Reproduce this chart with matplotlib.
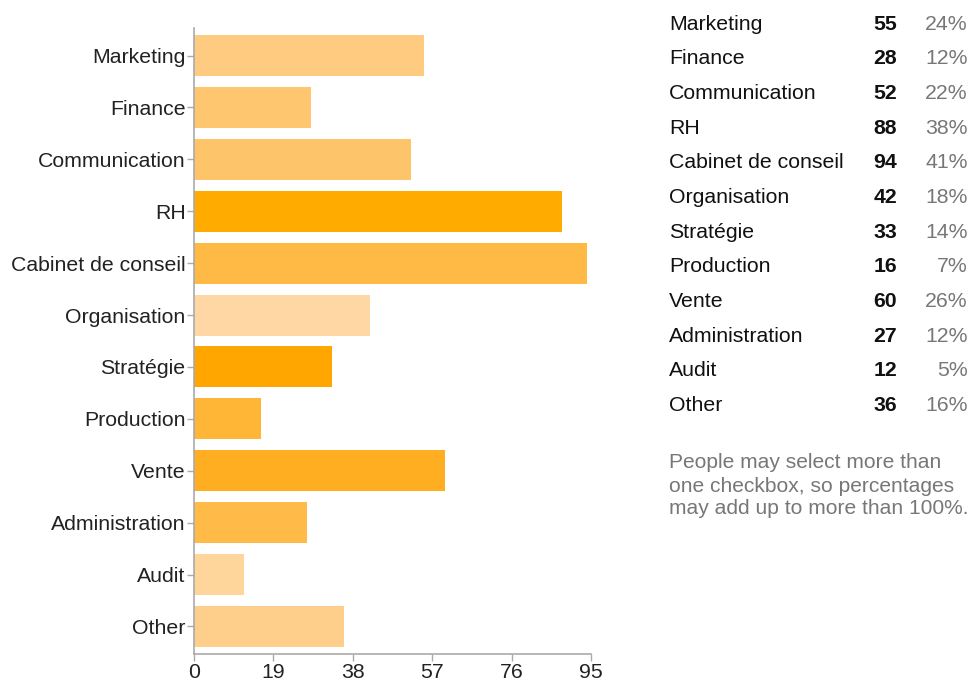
import matplotlib
matplotlib.use("Agg")
import matplotlib.pyplot as plt

categories = ["Marketing", "Finance", "Communication", "RH", "Cabinet de conseil",
              "Organisation", "Stratégie", "Production", "Vente", "Administration",
              "Audit", "Other"]
counts = [55, 28, 52, 88, 94, 42, 33, 16, 60, 27, 12, 36]
percents = ["24%", "12%", "22%", "38%", "41%", "18%", "14%", "7%", "26%", "12%", "5%", "16%"]
colors = ["#FECB81", "#FEC66F", "#FEC46A", "#FFAB00", "#FFB945", "#FED7A4",
          "#FFA600", "#FFB535", "#FFAE22", "#FFBA48", "#FED59A", "#FECF8B"]
xticks = [0, 19, 38, 57, 76, 95]
note_lines = ["People may select more than", "one checkbox, so percentages",
              "may add up to more than 100%."]

plt.rcParams['font.family'] = ['Liberation Sans', 'DejaVu Sans']
FS = 15.3

fig = plt.figure(figsize=(9.7, 6.82), dpi=100)
ax = fig.add_axes([194/970, 1-654/682, (591-194)/970, (654-28)/682])

y = list(range(len(categories)))
ax.barh(y, counts, height=0.79, color=colors, edgecolor="none")
ax.set_ylim(11.53, -0.53)
ax.set_xlim(0, 95)
ax.set_xticks(xticks)
ax.set_xticklabels([str(t) for t in xticks])
ax.set_yticks(y)
ax.set_yticklabels(categories)
for s in ["top", "right"]:
    ax.spines[s].set_visible(False)
for s in ["left", "bottom"]:
    ax.spines[s].set_color("#aaaaaa")
    ax.spines[s].set_linewidth(1.2)
ax.tick_params(axis="both", colors="#aaaaaa", labelcolor="#222222", labelsize=FS,
               length=5, width=1)
ax.tick_params(axis="y", pad=1)
ax.tick_params(axis="x", pad=1.5)

# right-hand table
row0 = 24
dy = 34.7
for i, (c, n, p) in enumerate(zip(categories, counts, percents)):
    yy = 1 - (row0 + i * dy) / 682
    fig.text(669/970, yy, c, ha="left", va="center", fontsize=FS, color="#111111")
    fig.text(897/970, yy, str(n), ha="right", va="center", fontsize=FS,
             fontweight="bold", color="#111111")
    fig.text(968/970, yy, p, ha="right", va="center", fontsize=FS, color="#777777")

for j, line in enumerate(note_lines):
    fig.text(669/970, 1 - (463 + 23 * j) / 682, line, ha="left", va="center",
             fontsize=FS * 0.99, color="#777777")

fig.savefig("out.png", dpi=100)
